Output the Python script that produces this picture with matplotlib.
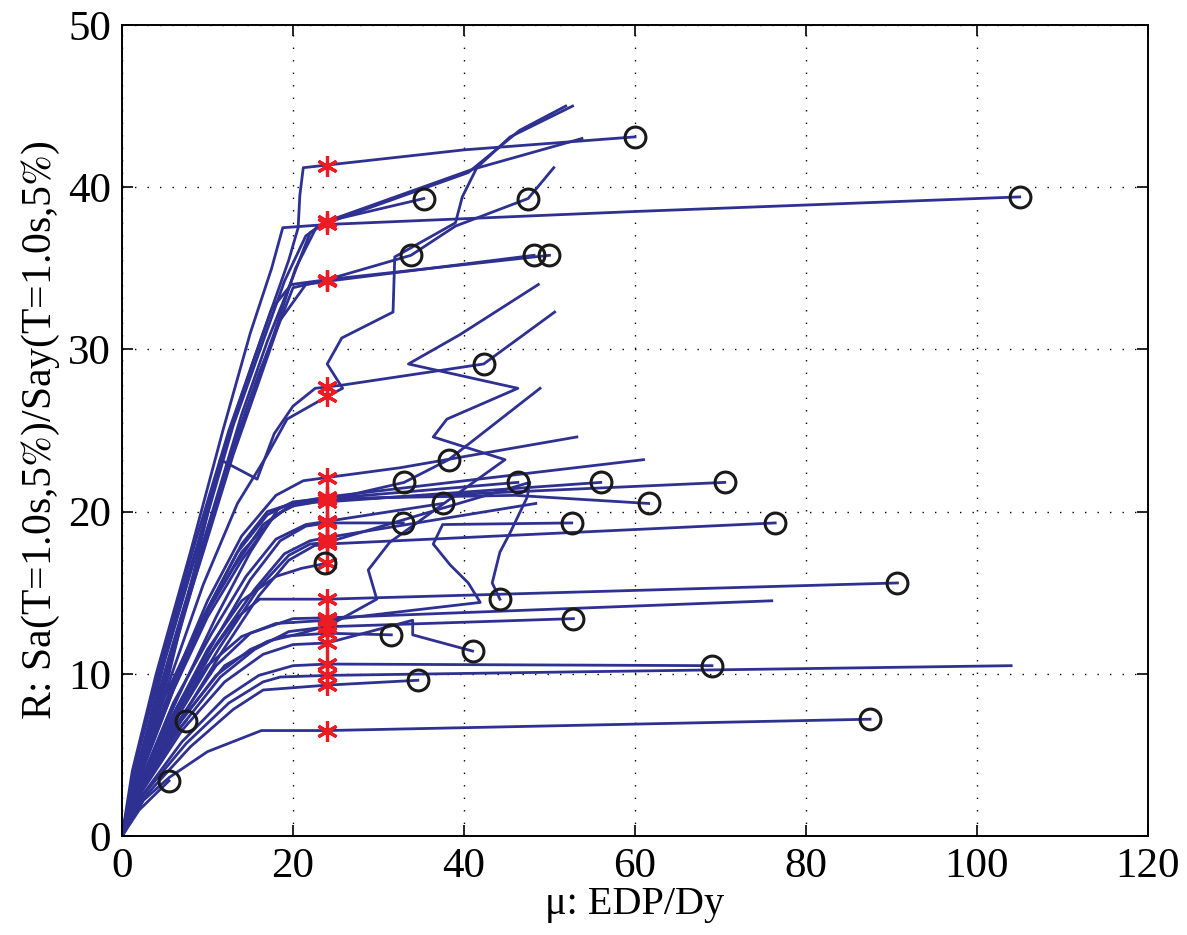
import matplotlib
matplotlib.use("Agg")
import matplotlib.pyplot as plt

plt.rcParams['font.family'] = ['Liberation Serif', 'DejaVu Serif']
plt.rcParams['mathtext.fontset'] = 'stix'

# IDA curves: (mu values, R values)
# upper bundle
mu_01 = [0, 1.5, 4.5, 8.5, 12.5, 16.5, 19.5, 20.6, 20.8, 21.2, 40, 60]
r_01 = [0, 4.2, 10.5, 18, 25, 31, 35.5, 37.5, 39.5, 41.2, 42.3, 43.1]
mu_02 = [0, 1.2, 4, 8, 11.8, 15, 17.5, 18.8, 24, 60, 105]
r_02 = [0, 4, 10, 17.5, 25, 31, 35, 37.5, 37.7, 38.5, 39.4]
mu_03 = [0, 1.8, 5, 9, 13, 16.5, 19, 21.5, 24, 35.3]
r_03 = [0, 4.2, 10.8, 18, 25.3, 30.5, 34.2, 37.0, 37.9, 39.3]
mu_04 = [0, 2, 5.5, 10, 14, 17, 19.5, 22, 24, 41, 53.8]
r_04 = [0, 4.4, 11, 19, 26, 30.5, 33.8, 37.2, 37.9, 41.1, 43]
mu_05 = [0, 2, 6, 10.5, 14.5, 17.8, 20.3, 22.8, 24, 40.5, 46.5, 51.9]
r_05 = [0, 4, 11.3, 19.5, 26.2, 31, 35, 37.6, 37.8, 40.9, 43.5, 45.0]
mu_06 = [0, 2, 5.5, 9.5, 13.5, 17, 19.3, 24, 25.8, 24, 25.7, 31.7, 31.9, 39, 39.8, 41.5, 45.4, 52.7]
r_06 = [0, 3.8, 9.5, 15.5, 20.5, 23.5, 25.7, 27.1, 27.6, 29.1, 30.7, 32.3, 35.7, 37.8, 39.4, 41.2, 43.1, 45.0]
mu_07 = [0, 1.8, 5.5, 9.5, 13, 16, 18.3, 20, 24, 33.8, 39, 47.5, 50.5]
r_07 = [0, 4.3, 11, 18, 24, 28.5, 31.5, 33.8, 34.3, 35.8, 37.6, 39.3, 41.2]
mu_08 = [0, 2, 5.5, 9.5, 13, 16, 18.5, 21.5, 24, 48.2]
r_08 = [0, 4.5, 10.8, 17.5, 23.5, 28, 31.8, 34.0, 34.2, 35.8]
mu_09 = [0, 1.6, 5, 9, 12.3, 15.3, 17.5, 19.8, 24, 50]
r_09 = [0, 4.6, 11.2, 18.3, 24.5, 29.2, 32.5, 34.0, 34.3, 35.8]
mu_10 = [0, 2, 5.5, 8.5, 11.5, 15.8, 17.8, 20, 22.6, 25.8, 42.3, 50.6]
r_10 = [0, 4, 10, 16.5, 23.2, 22.0, 24.8, 26.5, 27.6, 27.8, 29.1, 32.3]
# middle bundle
mu_11 = [0, 2, 6, 10, 14, 18, 21.2, 24, 32.5, 53.2]
r_11 = [0, 3.8, 9.5, 14.5, 18.5, 21, 21.9, 22.1, 22.7, 24.6]
mu_12 = [0, 2, 6, 10, 14, 17.5, 20, 24, 33, 38.2, 48.9]
r_12 = [0, 3.5, 9, 13.5, 17, 19.5, 20.5, 20.7, 21.8, 23.2, 27.6]
mu_13 = [0, 1.8, 5.5, 9.5, 13.5, 17, 20, 24, 46.3]
r_13 = [0, 3.6, 8.8, 13.5, 17.5, 19.8, 20.6, 20.8, 21.8]
mu_14 = [0, 2.2, 6.5, 11, 15, 18.3, 20.5, 24, 56]
r_14 = [0, 3.4, 8.5, 13.5, 17.5, 20.2, 20.6, 20.6, 21.8]
mu_15 = [0, 1.7, 5, 9, 13, 16.5, 19.5, 24, 70.5]
r_15 = [0, 3.7, 8.6, 13, 16.5, 19.2, 20.3, 20.7, 21.8]
mu_16 = [0, 2, 6, 10, 14, 17, 20.5, 24, 61]
r_16 = [0, 3.7, 9.2, 14, 18, 20, 20.6, 20.9, 23.2]
mu_17 = [0, 2, 6, 10, 14, 18, 21, 24, 46, 61.6]
r_17 = [0, 3.6, 9, 13.8, 17.5, 19.8, 20.6, 20.8, 21.0, 20.5]
mu_18 = [0, 2.1, 6, 10.5, 14.5, 18, 21.5, 24, 37.5]
r_18 = [0, 3.3, 8.2, 12.5, 16, 18.3, 19.2, 19.4, 20.5]
mu_19 = [0, 2.3, 6.5, 11, 15, 18.5, 21.5, 24, 32.9]
r_19 = [0, 3.2, 8, 12.2, 15.8, 18.2, 19.1, 19.3, 19.3]
mu_20 = [0, 2.2, 6.5, 11, 15.5, 19, 22, 24, 48.4]
r_20 = [0, 3.1, 7.6, 11.8, 15.2, 17.4, 18.2, 18.4, 20.5]
mu_21 = [0, 2.4, 7, 11.5, 16, 19.5, 22.5, 24, 76.4]
r_21 = [0, 3.0, 7.3, 11.2, 14.8, 17.0, 17.9, 18.0, 19.3]
mu_22 = [0, 2, 6, 10, 14, 18, 21, 23.8]
r_22 = [0, 3, 7.5, 11.5, 14.5, 16, 16.5, 16.8]
mu_23 = [0, 2.3, 6.8, 11.5, 16, 19.5, 22, 24, 47.7, 47.4, 45.4, 44.2, 43.3, 44.2]
r_23 = [0, 3.1, 7.6, 11.7, 15.3, 17.3, 18.0, 18.1, 21.8, 20.9, 18.7, 17.5, 15.6, 14.6]
mu_24 = [0, 2.5, 7, 12, 17, 21, 24.3, 29.8, 28.8, 31.3, 44.8, 36.4, 38, 46.3, 33.5, 39.5, 48.7]
r_24 = [0, 3, 7.2, 10.5, 12, 12.5, 13.0, 14.6, 16.4, 18.1, 23.2, 24.6, 25.7, 27.6, 29.1, 30.9, 34]
# lower bundle
mu_25 = [0, 2, 6, 10, 13.5, 16.1, 24, 90.7]
r_25 = [0, 3.2, 7.5, 11, 13.5, 14.6, 14.6, 15.6]
mu_26 = [0, 2.2, 6.5, 11, 15, 20, 24, 76]
r_26 = [0, 3, 7, 10.5, 12.5, 13.4, 13.45, 14.5]
mu_27 = [0, 2, 6, 10, 14, 18, 24, 41.9, 40.5, 38.4, 36.4, 37.5, 52.6]
r_27 = [0, 3.1, 7.3, 10.5, 12.3, 13.1, 13.3, 14.4, 15.6, 16.7, 18, 19.2, 19.3]
mu_28 = [0, 2.3, 7, 11.5, 15.5, 19.5, 24, 52.8]
r_28 = [0, 2.9, 6.8, 9.8, 11.5, 12.6, 12.9, 13.4]
mu_29 = [0, 2, 6.5, 11, 15, 18.5, 24, 31.5]
r_29 = [0, 2.9, 6.8, 9.9, 11.5, 12.3, 12.5, 12.4]
mu_30 = [0, 2.4, 7, 12, 16.5, 20, 24, 34, 34, 41]
r_30 = [0, 2.8, 6.5, 9.5, 11.2, 11.8, 11.9, 13.3, 12.4, 11.4]
mu_31 = [0, 2.5, 7, 12, 16, 20, 24, 69]
r_31 = [0, 2.6, 5.8, 8.5, 9.9, 10.5, 10.6, 10.5]
mu_32 = [0, 2.6, 7.5, 12.5, 16.5, 18.5, 24, 104]
r_32 = [0, 2.6, 5.7, 8.2, 9.5, 9.8, 9.9, 10.5]
mu_33 = [0, 2.8, 8, 13, 16.5, 24, 34.6]
r_33 = [0, 2.5, 5.5, 7.8, 9.0, 9.3, 9.6]
mu_34 = [0, 2.5, 5.5, 10, 16.3, 24, 87.5]
r_34 = [0, 2.2, 3.6, 5.2, 6.5, 6.5, 7.2]
mu_35 = [0, 1.5, 4, 7.5]
r_35 = [0, 2.5, 5, 7.1]
mu_36 = [0, 2, 5.5]
r_36 = [0, 1.6, 3.4]

curves = [(mu_01, r_01), (mu_02, r_02), (mu_03, r_03), (mu_04, r_04), (mu_05, r_05),
          (mu_06, r_06), (mu_07, r_07), (mu_08, r_08), (mu_09, r_09), (mu_10, r_10),
          (mu_11, r_11), (mu_12, r_12), (mu_13, r_13), (mu_14, r_14), (mu_15, r_15),
          (mu_16, r_16), (mu_17, r_17), (mu_18, r_18), (mu_19, r_19), (mu_20, r_20),
          (mu_21, r_21), (mu_22, r_22), (mu_23, r_23), (mu_24, r_24), (mu_25, r_25),
          (mu_26, r_26), (mu_27, r_27), (mu_28, r_28), (mu_29, r_29), (mu_30, r_30),
          (mu_31, r_31), (mu_32, r_32), (mu_33, r_33), (mu_34, r_34), (mu_35, r_35),
          (mu_36, r_36)]

# capacity points (circles)
cap_mu = [60, 105, 35.3, 47.5, 33.8, 48.2, 50, 42.3, 38.2, 33, 46.3, 56, 70.5, 37.5, 61.6,
          32.9, 52.6, 76.4, 23.8, 44.2, 90.7, 52.8, 31.5, 41, 69, 34.6, 87.5, 7.5, 5.5]
cap_r = [43.1, 39.4, 39.3, 39.3, 35.8, 35.8, 35.8, 29.1, 23.2, 21.8, 21.8, 21.8, 21.8, 20.5, 20.5,
         19.3, 19.3, 19.3, 16.8, 14.6, 15.6, 13.4, 12.4, 11.4, 10.5, 9.6, 7.2, 7.1, 3.4]

# ductility limit points (stars)
mu_limit = 24
star_r = [41.3, 37.9, 37.7, 34.3, 34.2, 27.7, 27.1, 22.1, 20.8, 20.6, 20.9, 19.4, 19.3, 18.4,
          18.1, 18.0, 16.8, 14.6, 13.45, 13.3, 12.9, 12.5, 11.9, 10.6, 9.9, 9.3, 6.5]

fig = plt.figure(figsize=(11.87, 9.35), dpi=100)
ax = fig.add_axes([0.1028, 0.1059, 0.8643, 0.8674])

for mu, r in curves:
    ax.plot(mu, r, color='#2E3192', lw=2.0, zorder=2)

ax.plot([mu_limit] * len(star_r), star_r, linestyle='none', marker=(6, 2, 0),
        markersize=15, markeredgewidth=2.3, color='#ED1C24', zorder=3)
ax.plot(cap_mu, cap_r, linestyle='none', marker='o', markersize=15,
        markerfacecolor='none', markeredgecolor='#1a1a1a', markeredgewidth=2.2, zorder=4)

ax.set_xlim(0, 120)
ax.set_ylim(0, 50)
ax.set_xticks(range(0, 121, 20))
ax.set_yticks(range(0, 51, 10))
ax.grid(True, color='black', linestyle=(0, (1, 8)), linewidth=1.0)
ax.tick_params(direction='in', length=8, width=1.2, top=True, right=True,
               labelsize=31, pad=8)
for s in ax.spines.values():
    s.set_linewidth(1.4)

ax.set_xlabel(u'\u03bc: EDP/Dy', fontsize=29, labelpad=0)
ax.set_ylabel('R: Sa(T=1.0s,5$\\%$)/Say(T=1.0s,5$\\%$)', fontsize=30, labelpad=4)

fig.savefig('out.png', dpi=100)
